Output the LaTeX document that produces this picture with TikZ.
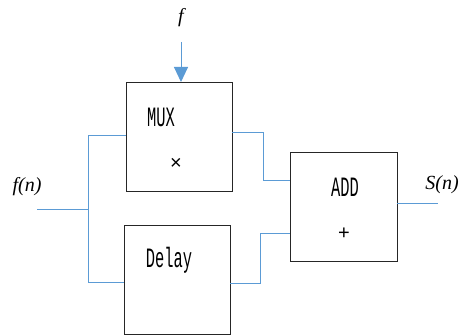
\documentclass[tikz,border=0pt]{standalone}
\usepackage{fontspec}
\setmainfont{Liberation Serif}
\newfontfamily\condfont[FakeStretch=0.55]{Liberation Mono}
\newfontfamily\opfont{Liberation Sans}
\usetikzlibrary{arrows.meta}
\definecolor{wire}{RGB}{91,155,213}
\begin{document}
\begin{tikzpicture}[x=1pt,y=-1pt,
  block/.style={draw=black!85,line width=0.9pt,inner sep=0pt},
  wire/.style={draw=wire,line width=1pt},
  blocktext/.style={font=\condfont\fontsize{28}{28}\selectfont,inner sep=0pt},
  optext/.style={font=\opfont\fontsize{20}{20}\selectfont,inner sep=0pt},
  sig/.style={font=\itshape\fontsize{20}{20}\selectfont,inner sep=0pt}]
\useasboundingbox (0,0) rectangle (467,336);
% blocks
\draw[block] (126,82) rectangle (232,191);
\coordinate (muxW) at (126,136);
\coordinate (muxE) at (232,133);
\coordinate (muxN) at (181,82);
\draw[block] (124,225) rectangle (230,334);
\coordinate (delW) at (124,283);
\coordinate (delE) at (230,284);
\draw[block] (290,152) rectangle (397,261);
\coordinate (addW1) at (290,181);
\coordinate (addW2) at (290,234);
\coordinate (addE) at (397,204);
% texts
\node[blocktext] (mux) at (161,117) {MUX};
\node[optext] (times) at (176,164) {×};
\node[blocktext] (delay) at (169,260) {Delay};
\node[blocktext] (add) at (345,187) {ADD};
\node[optext] (plus) at (344,234) {+};
\node[sig] (f) at (181,18) {f};
\node[sig] (fn) at (27,187) {f(n)};
\node[sig] (sn) at (442,185) {S(n)};
% wires
\coordinate (fin) at (37,210);
\coordinate (split) at (88,210);
\coordinate (ftop) at (181,42);
\coordinate (sout) at (438,204);
\draw[wire] (fin) -- (split);
\draw[wire] (muxW) -| (88,283) -- (delW);
\draw[wire] (muxE) -- (263,133) |- (addW1);
\draw[wire] (delE) -- (260,284) |- (addW2);
\draw[wire] (addE) -- (sout);
\draw[wire,-{Triangle[width=14pt,length=15pt]}] (ftop) -- (muxN);
\end{tikzpicture}
\end{document}
